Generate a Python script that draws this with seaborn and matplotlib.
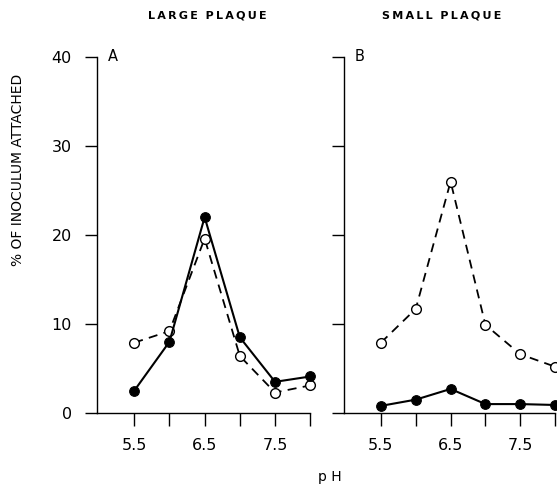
import numpy as np
import pandas as pd
import matplotlib
matplotlib.use('Agg')
import matplotlib.pyplot as plt
import seaborn as sns

ph = [5.5, 6.0, 6.5, 7.0, 7.5, 8.0]
large_filled = [2.5, 8.0, 22.0, 8.5, 3.5, 4.1]
large_open = [7.9, 9.2, 19.6, 6.4, 2.3, 3.1]
small_filled = [0.8, 1.5, 2.7, 1.0, 1.0, 0.9]
small_open = [7.9, 11.7, 26.0, 9.9, 6.6, 5.2]
titles = ['LARGE PLAQUE', 'SMALL PLAQUE']
letters = ['A', 'B']

sns.set_style('ticks')
plt.rcParams['font.family'] = ['DejaVu Sans']
plt.rcParams['text.color'] = 'black'
plt.rcParams['xtick.color'] = 'black'
plt.rcParams['ytick.color'] = 'black'
plt.rcParams['axes.edgecolor'] = 'black'

fig = plt.figure(figsize=(5.57, 4.92), dpi=100)
axA = fig.add_axes([0.174, 0.1606, 0.383, 0.7236])
axB = fig.add_axes([0.6176, 0.1606, 0.379, 0.7236])

panels = [(axA, large_filled, large_open), (axB, small_filled, small_open)]
for i, (ax, filled, opened) in enumerate(panels):
    sns.lineplot(x=ph, y=opened, ax=ax, color='black', linestyle=(0, (5, 3.5)), lw=1.3,
                 marker='o', markersize=7, markerfacecolor='white', markeredgecolor='black',
                 markeredgewidth=1.0, clip_on=False, zorder=3)
    sns.lineplot(x=ph, y=filled, ax=ax, color='black', lw=1.5,
                 marker='o', markersize=7, markerfacecolor='black', markeredgecolor='black',
                 clip_on=False, zorder=4)
    ax.set_xlim(4.97, 8.0)
    ax.set_ylim(0, 40)
    ax.set_xticks(ph)
    ax.set_xticklabels(['5.5', '', '6.5', '', '7.5', ''])
    ax.set_yticks([0, 10, 20, 30, 40])
    ax.tick_params(axis='x', direction='out', length=9, width=1.0, pad=9, labelsize=11.5)
    ax.tick_params(axis='y', direction='out', length=9, width=1.0, pad=9, labelsize=11.5)
    for s in ['top', 'right']:
        ax.spines[s].set_visible(False)
    for s in ['left', 'bottom']:
        ax.spines[s].set_linewidth(1.0)
    ax.text(0.05, 1.0, letters[i], transform=ax.transAxes, fontsize=10.5, va='center', ha='left')
    ax.set_xlabel('')
    ax.set_ylabel('')

axB.set_yticklabels([])

# spread the title letters a little, like the original lettering
def spaced(s):
    return '\u2009'.join(s).replace('\u2009 \u2009', '  ')

fig.text(207 / 557, 1 - 16 / 492, spaced(titles[0]), fontsize=8, weight='bold', ha='center', va='center')
fig.text(442 / 557, 1 - 16 / 492, spaced(titles[1]), fontsize=8, weight='bold', ha='center', va='center')
fig.text(18 / 557, 1 - 170 / 492, '% OF INOCULUM ATTACHED', fontsize=10, rotation=90,
         ha='center', va='center')
fig.text(330 / 557, 1 - 477 / 492, 'p H', fontsize=10, ha='center', va='center')

fig.savefig('out.png', dpi=100)
